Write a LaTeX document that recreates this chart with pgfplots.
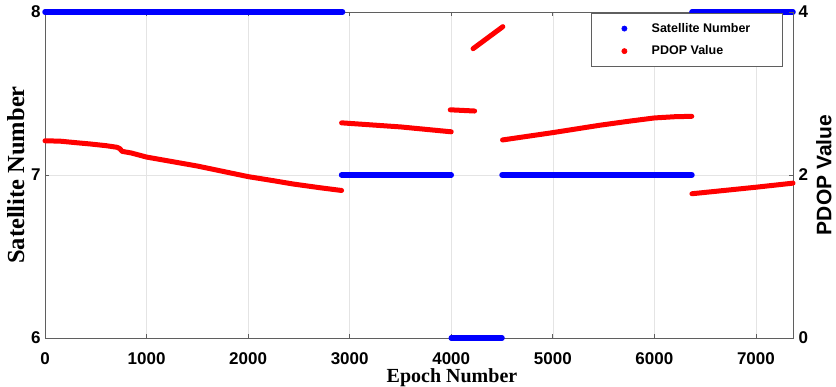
\documentclass[border=0pt]{standalone}
\usepackage{fontspec}
\setmainfont{Liberation Sans}
\newfontfamily\timesf{Liberation Serif}
\usepackage{pgfplots}
\pgfplotsset{compat=1.18}
\definecolor{gridc}{RGB}{228,228,228}
\definecolor{axc}{RGB}{95,95,95}
\definecolor{mblue}{RGB}{0,0,255}
\definecolor{mred}{RGB}{255,0,0}
\begin{document}
\begin{tikzpicture}
\pgfplotsset{
  common/.style={width=748pt,height=326pt,scale only axis,xmin=0,xmax=7365,
    tick label style={font=\fontsize{17}{20}\selectfont\bfseries},
    /pgf/number format/assume math mode=true,
    /pgf/number format/1000 sep={},
    axis line style={axc,line width=0.8pt},
    tick style={axc,line width=0.8pt},
    major tick length=4pt,
    tick align=inside,
  }
}
\begin{axis}[common,name=main,
  ymin=6,ymax=8,ytick={6,7,8},
  xtick={0,1000,...,7000},
  xtick pos=both, ytick pos=left,
  xmajorgrids, ymajorgrids,
  grid style={gridc,line width=0.6pt},
  clip=false,
  xticklabel style={yshift=-11pt},
  yticklabel style={xshift=-1pt},
  xlabel={\timesf\bfseries Epoch Number},
  xlabel style={at={(axis description cs:0.5,0)},anchor=north,xshift=33pt,yshift=-30pt,inner sep=0pt,font=\fontsize{20}{22}\selectfont},
  ylabel={\timesf\bfseries Satellite Number},
  ylabel style={at={(axis description cs:0,0.5)},anchor=north,yshift=38pt,inner sep=0pt,font=\fontsize{24.5}{26}\selectfont},
]
\addplot[mblue,line width=5.5pt,line cap=round] coordinates {(0,8) (2930,8)};
\addplot[mblue,line width=5.5pt,line cap=round] coordinates {(2920,7) (4000,7)};
\addplot[mblue,line width=5.5pt,line cap=round] coordinates {(4000,6) (4500,6)};
\addplot[mblue,line width=5.5pt,line cap=round] coordinates {(4500,7) (6370,7)};
\addplot[mblue,line width=5.5pt,line cap=round] coordinates {(6370,8) (7365,8)};
\end{axis}
\begin{axis}[common,
  ymin=0,ymax=4,ytick={0,2,4},
  xtick=\empty, ytick pos=right,
  axis x line=none, axis y line*=right,
  clip=false,
  yticklabel style={xshift=2pt},
  ylabel={PDOP Value},
  ylabel style={at={(axis description cs:1,0.5)},anchor=north,yshift=-23pt,inner sep=0pt,font=\fontsize{21}{24}\selectfont\bfseries},
  legend image code/.code={\path (-33pt,0) (27pt,0); \fill[#1] (0pt,0pt) circle (2.6pt);},
  legend cell align=left,
  legend style={at={(axis description cs:1,1)},anchor=north east,xshift=-10pt,yshift=-1pt,
    draw=axc,line width=0.6pt,font=\fontsize{12.5}{15}\selectfont\bfseries,
    inner xsep=0pt,inner ysep=10pt,row sep=12pt,
    nodes={inner xsep=0pt,inner ysep=0pt}},
]
\addlegendimage{mblue}
\addlegendentry{\makebox[131pt][l]{Satellite Number}}
\addlegendimage{mred}
\addlegendentry{\makebox[131pt][l]{PDOP Value}}
\addplot[mred,line width=5pt,line cap=round,line join=round,forget plot] coordinates {
(0,2.42) (150,2.415) (276,2.40) (450,2.38) (600,2.36) (709,2.34) (735,2.325) (760,2.29)
(850,2.27) (1000,2.22) (1250,2.165) (1500,2.11) (1750,2.045) (2000,1.98) (2250,1.93)
(2440,1.89) (2700,1.845) (2920,1.81)};
\addplot[mred,line width=5pt,line cap=round,forget plot] coordinates {(2920,2.64) (3500,2.59) (4000,2.53)};
\addplot[mred,line width=5pt,line cap=round,forget plot] coordinates {(3990,2.80) (4230,2.785)};
\addplot[mred,line width=5pt,line cap=round,forget plot] coordinates {(4215,3.55) (4508,3.82)};
\addplot[mred,line width=5pt,line cap=round,line join=round,forget plot] coordinates {
(4505,2.43) (5000,2.52) (5460,2.61) (5750,2.66) (6000,2.70) (6200,2.715) (6368,2.72)};
\addplot[mred,line width=5pt,line cap=round,forget plot] coordinates {(6370,1.77) (7000,1.85) (7365,1.90)};
\end{axis}
\pgfresetboundingbox
\path[use as bounding box] ([xshift=-45pt,yshift=-49pt]main.south west) rectangle ([xshift=43pt,yshift=12pt]main.north east);
\end{tikzpicture}
\end{document}
